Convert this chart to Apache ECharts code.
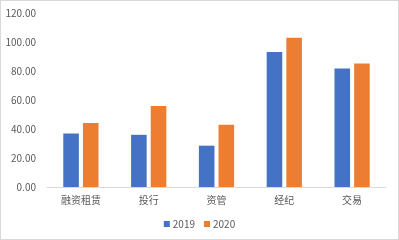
<!DOCTYPE html>
<html><head><meta charset="utf-8">
<script src="https://cdn.jsdelivr.net/npm/echarts@6/dist/echarts.min.js"></script>
<style>
html,body{margin:0;padding:0;background:#fff;}
#wrap{position:absolute;left:0;top:0;width:397px;height:238px;border:1px solid #d9d9d9;}
#c{width:397px;height:238px;}
</style></head>
<body><div id="wrap"><div id="c"></div></div>
<script>
var categories = ['融资租赁','投行','资管','经纪','交易'];
var seriesNames = ['2019','2020'];
var values2019 = [36.9, 36.0, 28.5, 93.1, 81.8];
var values2020 = [44.1, 55.8, 43.0, 103.0, 85.1];
var yTicks = {min:0, max:120, interval:20};

var font = "'Noto Sans CJK SC', 'Microsoft YaHei', sans-serif";
var chart = echarts.init(document.getElementById('c'), null, {renderer:'canvas'});
chart.setOption({
  animation:false,
  textStyle:{fontFamily:font},
  grid:{left:46, right:12, top:12, bottom:52},
  legend:{
    data:seriesNames, bottom:5, left:'center',
    itemWidth:6, itemHeight:6, itemGap:9, icon:'rect',
    textStyle:{color:'#595959', fontSize:10, fontFamily:font, padding:[0,0,0,-2]}
  },
  xAxis:{
    type:'category', data:categories,
    axisLine:{lineStyle:{color:'#d9d9d9'}},
    axisTick:{show:false},
    axisLabel:{color:'#595959', fontSize:10, margin:8, fontFamily:font}
  },
  yAxis:{
    type:'value', min:yTicks.min, max:yTicks.max, interval:yTicks.interval,
    splitLine:{show:false}, axisLine:{show:false}, axisTick:{show:false},
    axisLabel:{color:'#595959', fontSize:10, margin:11, fontFamily:font,
      formatter:function(v){return v.toFixed(2);}}
  },
  series:[
    {name:seriesNames[0], type:'bar', data:values2019, barWidth:'23%', barGap:'26%',
     itemStyle:{color:'#4472C4'}},
    {name:seriesNames[1], type:'bar', data:values2020, barWidth:'23%', barGap:'26%',
     itemStyle:{color:'#ED7D31'}}
  ]
});
</script></body></html>
